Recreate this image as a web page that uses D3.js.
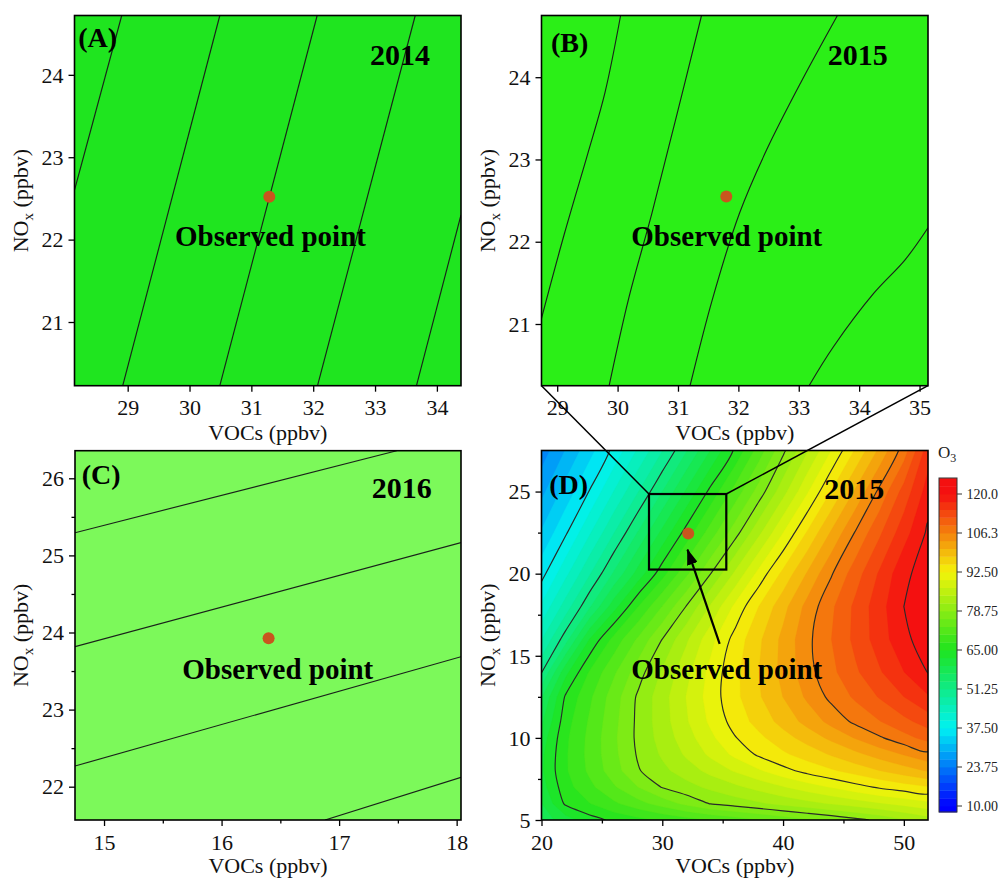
<!DOCTYPE html>
<html>
<head>
<meta charset="utf-8">
<script src="https://cdn.jsdelivr.net/npm/d3@7"></script>
<style>
  body { margin: 0; background: #fff; }
  svg { display: block; }
</style>
</head>
<body>
<svg id="chart" width="999" height="879"></svg>
<script>
// ===================== DATA =====================
const panelLetters = ["(A)", "(B)", "(C)", "(D)"];
const panelYears = ["2014", "2015", "2016", "2015"];
const observedLabel = "Observed point";
const xTitle = "VOCs (ppbv)";

// Panel A (2014)
const vocRangeA = [28.14, 34.39];
const noxRangeA = [20.227, 24.72];
const vocTicksA = [29, 30, 31, 32, 33, 34];
const noxTicksA = [21, 22, 23, 24];
const observedA = [31.29, 22.52];
const contourLinesA = [
  [[28.14, 22.60], [28.904, 24.72]],
  [[28.92, 20.227], [30.49, 24.72]],
  [[30.49, 20.227], [32.064, 24.72]],
  [[32.07, 20.227], [33.65, 24.72]],
  [[33.67, 20.227], [34.39, 22.30]]
];

// Panel B (2015, zoom)
const vocRangeB = [28.74, 35.14];
const noxRangeB = [20.25, 24.75];
const vocTicksB = [29, 30, 31, 32, 33, 34, 35];
const noxTicksB = [21, 22, 23, 24];
const observedB = [31.8, 22.55];
const contourLinesB = [
  [[28.74, 21.07], [29.12, 22.10], [29.51, 23.08], [29.79, 23.81], [30.05, 24.75]],
  [[29.86, 20.25], [30.18, 21.30], [30.57, 22.35], [30.96, 23.48], [31.39, 24.75]],
  [[31.20, 20.25], [31.57, 21.30], [32.02, 22.35], [32.47, 23.12], [33.03, 23.93], [33.64, 24.75]],
  [[33.17, 20.25], [33.58, 20.73], [34.25, 21.38], [34.76, 21.78], [35.14, 22.17]]
];

// Panel C (2016)
const vocRangeC = [14.753, 18.037];
const noxRangeC = [21.568, 26.358];
const vocTicksC = [15, 16, 17, 18];
const vocMinorC = [15.5, 16.5, 17.5];
const noxTicksC = [22, 23, 24, 25, 26];
const noxMinorC = [22.5, 23.5, 24.5, 25.5];
const observedC = [16.40, 23.925];
const contourLinesC = [
  [[14.753, 25.294], [17.49, 26.358]],
  [[14.753, 23.816], [18.037, 25.165]],
  [[14.753, 22.268], [18.037, 23.686]],
  [[16.88, 21.568], [18.037, 22.121]]
];

// Panel D (2015, full O3 isopleth)
const vocRangeD = [20, 52];
const noxRangeD = [5, 27.5];
const vocTicksD = [20, 30, 40, 50];
const vocMinorD = [25, 35, 45];
const noxTicksD = [5, 10, 15, 20, 25];
const noxMinorD = [7.5, 12.5, 17.5, 22.5];
const observedD = [32.15, 22.44];
const arrowD = [[34.75, 15.73], [32.09, 21.46]];
const zoomBoxD = [[28.9, 20.25], [35.3, 24.85]];

// O3 grid estimated from the colours / isopleths of panel D
const gridVOC = [20, 22, 24, 26, 28, 30, 32, 34, 36, 38, 40, 42, 44, 46, 48, 50, 52];
const gridNOx = [5, 6, 7, 8, 9, 10, 11, 12.5, 14, 16, 18, 20, 22.5, 25, 27.5];
const o3Grid = [
  [58.0, 60.9, 63.8, 65.7, 66.9, 68.2, 69.4, 70.6, 71.8, 73.1, 74.3, 75.5, 76.7, 78.0, 79.4, 81.2, 83.0],
  [59.4, 65.5, 67.7, 70.0, 72.3, 74.5, 76.8, 78.9, 80.0, 81.1, 82.3, 83.4, 84.5, 85.6, 86.8, 87.9, 89.0],
  [61.0, 66.7, 69.8, 72.9, 76.0, 78.9, 80.5, 82.1, 83.6, 85.2, 86.8, 88.4, 89.9, 91.5, 92.9, 94.0, 95.0],
  [61.8, 67.4, 71.1, 74.8, 78.5, 80.8, 82.9, 85.1, 87.3, 89.4, 91.6, 93.4, 94.9, 96.4, 98.0, 99.5, 101.0],
  [61.6, 67.4, 71.4, 75.3, 79.1, 81.9, 84.7, 87.6, 90.4, 93.0, 94.8, 96.5, 98.3, 100.1, 101.9, 103.7, 105.5],
  [60.7, 67.2, 71.3, 75.5, 79.4, 82.6, 85.8, 89.1, 92.3, 94.6, 96.9, 99.1, 101.4, 103.7, 105.9, 108.0, 110.0],
  [59.0, 66.6, 70.9, 75.2, 79.4, 83.0, 86.7, 90.3, 93.6, 96.3, 99.0, 101.7, 104.4, 106.9, 108.9, 111.0, 113.0],
  [56.5, 65.4, 70.0, 74.7, 79.2, 83.1, 87.1, 91.0, 94.5, 97.7, 100.8, 104.0, 107.0, 109.5, 112.0, 114.5, 117.0],
  [51.1, 61.4, 68.1, 72.8, 77.5, 81.9, 86.2, 90.6, 94.5, 98.0, 101.6, 105.2, 108.3, 111.3, 114.2, 117.2, 120.1],
  [45.6, 52.8, 62.4, 68.7, 73.7, 78.8, 83.8, 88.8, 93.5, 97.5, 101.5, 105.5, 109.0, 112.5, 115.9, 119.3, 121.5],
  [40.7, 47.0, 53.7, 61.1, 67.7, 73.3, 78.9, 84.6, 90.3, 95.3, 99.8, 104.4, 108.5, 112.4, 116.2, 120.0, 122.0],
  [36.5, 42.3, 48.3, 54.4, 60.6, 66.7, 72.7, 78.7, 84.7, 90.7, 96.0, 101.0, 106.0, 110.5, 114.9, 119.3, 121.5],
  [32.3, 37.1, 42.7, 48.4, 54.2, 60.2, 66.1, 71.8, 77.5, 83.6, 89.7, 95.5, 101.1, 106.5, 111.3, 116.1, 120.5],
  [28.5, 33.1, 37.7, 43.1, 48.4, 54.0, 59.9, 65.8, 71.5, 77.2, 83.2, 89.4, 95.4, 101.2, 107.0, 112.8, 118.5],
  [25.0, 29.4, 33.8, 38.3, 43.4, 48.4, 53.8, 59.6, 65.4, 71.8, 78.1, 84.0, 89.8, 95.6, 101.4, 107.6, 116.0]
];
const o3LineLevels = [37.5, 51.25, 65, 78.75, 92.5, 106.25, 120];
const o3FillStep = 2.75;
const o3Min = 10, o3Max = 120;
const colorStops = [10, 37.5, 65, 92.5, 120];
const colorbarTicks = [10, 23.75, 37.5, 51.25, 65, 78.75, 92.5, 106.25, 120];
const colorbarLabels = ["10.00", "23.75", "37.50", "51.25", "65.00", "78.75", "92.50", "106.3", "120.0"];

// ===================== STYLE / LAYOUT =====================
const serif = "'Liberation Serif','Times New Roman',Times,serif";
const frames = {
  A: { left: 74.5, right: 461, top: 15.5, bottom: 385.7, titleGap: 54 },
  B: { left: 541.5, right: 928, top: 15.5, bottom: 385.7, titleGap: 54 },
  C: { left: 75, right: 461, top: 450.7, bottom: 820, titleGap: 53 },
  D: { left: 541.5, right: 928, top: 450.5, bottom: 820, titleGap: 53 }
};
const panelFill = { A: "#1fe51f", B: "#2bef17", C: "#7cf95a" };
const colorRange = ["#0000ff", "#00f2f2", "#1ee41e", "#f4f40a", "#f41010"];
const dotColor = "#c8561e";
const labelPos = {
  A: { letter: [3.8, 31.5], year: [-31, 49.5], obs: [100.5, 230.5] },
  B: { letter: [9.5, 36.5], year: [-40.3, 49.5], obs: [89.8, 230.5] },
  C: { letter: [6.7, 33.3], year: [-29.3, 47.3], obs: [107.3, 228.3] },
  D: { letter: [7.8, 43.5], year: [-43.7, 48.5], obs: [89.8, 228.5] }
};

const svg = d3.select("#chart");
const defs = svg.append("defs");
const o3Color = d3.scaleLinear().domain(colorStops).range(colorRange).clamp(true);

function makePanel(key, cfg) {
  const f = frames[key];
  const x = d3.scaleLinear().domain(cfg.xDomain).range([f.left, f.right]);
  const y = d3.scaleLinear().domain(cfg.yDomain).range([f.bottom, f.top]);
  defs.append("clipPath").attr("id", "clip" + key).append("rect")
    .attr("x", f.left).attr("y", f.top).attr("width", f.right - f.left).attr("height", f.bottom - f.top);
  const g = svg.append("g");
  const plot = g.append("g").attr("clip-path", `url(#clip${key})`);
  return { f, x, y, g, plot };
}

function finishPanel(key, P, cfg, idx) {
  const { f, x, y, g } = P;
  g.append("rect").attr("x", f.left).attr("y", f.top)
    .attr("width", f.right - f.left).attr("height", f.bottom - f.top)
    .attr("fill", "none").attr("stroke", "#000").attr("stroke-width", 1.6);
  const xa = g.append("g").attr("transform", `translate(0,${f.bottom})`)
    .call(d3.axisBottom(x).tickValues(cfg.xTicks).tickSize(6).tickFormat(d3.format("d")));
  const ya = g.append("g").attr("transform", `translate(${f.left},0)`)
    .call(d3.axisLeft(y).tickValues(cfg.yTicks).tickSize(6).tickFormat(d3.format("d")));
  if (cfg.xMinor) g.append("g").attr("transform", `translate(0,${f.bottom})`)
    .call(d3.axisBottom(x).tickValues(cfg.xMinor).tickSize(3.5).tickFormat(""));
  if (cfg.yMinor) g.append("g").attr("transform", `translate(${f.left},0)`)
    .call(d3.axisLeft(y).tickValues(cfg.yMinor).tickSize(3.5).tickFormat(""));
  g.selectAll(".domain").remove();
  g.selectAll(".tick line").attr("stroke", "#000").attr("stroke-width", 1.3);
  xa.selectAll(".tick text").attr("y", 29.5).attr("dy", 0)
    .attr("font-size", 22).attr("font-family", serif).attr("fill", "#111");
  ya.selectAll(".tick text").attr("x", -11).attr("dy", "0.33em")
    .attr("font-size", 22).attr("font-family", serif).attr("fill", "#111");
  g.append("text").attr("x", (f.left + f.right) / 2).attr("y", f.bottom + f.titleGap)
    .attr("text-anchor", "middle").attr("font-family", serif).attr("font-size", 22).attr("fill", "#111")
    .text(xTitle);
  const yt = g.append("text")
    .attr("transform", `translate(${f.left - 47},${(f.top + f.bottom) / 2}) rotate(-90)`)
    .attr("text-anchor", "middle").attr("font-family", serif).attr("font-size", 22).attr("fill", "#111");
  yt.append("tspan").text("NO");
  yt.append("tspan").attr("font-size", 15).attr("dy", 5).text("x");
  yt.append("tspan").attr("dy", -5).text(" (ppbv)");
  g.append("circle").attr("cx", x(cfg.observed[0])).attr("cy", y(cfg.observed[1]))
    .attr("r", 6).attr("fill", dotColor);
  const lp = labelPos[key];
  const bold = (sel) => sel.attr("font-family", serif).attr("font-weight", "bold").attr("fill", "#000");
  bold(g.append("text")).attr("x", f.left + lp.letter[0]).attr("y", f.top + lp.letter[1])
    .attr("font-size", 28).text(panelLetters[idx]);
  bold(g.append("text")).attr("x", f.right + lp.year[0]).attr("y", f.top + lp.year[1])
    .attr("text-anchor", "end").attr("font-size", 30).text(panelYears[idx]);
  bold(g.append("text")).attr("x", f.left + lp.obs[0]).attr("y", f.top + lp.obs[1])
    .attr("font-size", 29).text(observedLabel);
}

function simplePanel(key, idx, cfg) {
  const P = makePanel(key, cfg);
  P.plot.append("rect")
    .attr("x", P.x(cfg.xDomain[0])).attr("y", P.y(cfg.yDomain[1]))
    .attr("width", P.x(cfg.xDomain[1]) - P.x(cfg.xDomain[0]))
    .attr("height", P.y(cfg.yDomain[0]) - P.y(cfg.yDomain[1]))
    .attr("fill", panelFill[key]);
  const line = d3.line().x(d => P.x(d[0])).y(d => P.y(d[1])).curve(d3.curveCatmullRom.alpha(0.5));
  P.plot.selectAll("path.iso").data(cfg.lines).join("path").attr("class", "iso")
    .attr("d", line).attr("fill", "none").attr("stroke", "#1a221a").attr("stroke-width", 1.15);
  finishPanel(key, P, cfg, idx);
  return P;
}

simplePanel("A", 0, { xDomain: vocRangeA, yDomain: noxRangeA, xTicks: vocTicksA, yTicks: noxTicksA, observed: observedA, lines: contourLinesA });
simplePanel("B", 1, { xDomain: vocRangeB, yDomain: noxRangeB, xTicks: vocTicksB, yTicks: noxTicksB, observed: observedB, lines: contourLinesB });
simplePanel("C", 2, { xDomain: vocRangeC, yDomain: noxRangeC, xTicks: vocTicksC, yTicks: noxTicksC, xMinor: vocMinorC, yMinor: noxMinorC, observed: observedC, lines: contourLinesC });

// ---------- Panel D: filled contour from the O3 grid ----------
const cfgD = { xDomain: vocRangeD, yDomain: noxRangeD, xTicks: vocTicksD, yTicks: noxTicksD, xMinor: vocMinorD, yMinor: noxMinorD, observed: observedD };
const PD = makePanel("D", cfgD);
const nx = gridVOC.length, ny = gridNOx.length;
const idxToVOC = d3.scaleLinear().domain(d3.range(nx)).range(gridVOC);
const idxToNOx = d3.scaleLinear().domain(d3.range(ny)).range(gridNOx);
const toPx = p => [PD.x(idxToVOC(p[0] - 0.5)), PD.y(idxToNOx(p[1] - 0.5))];
const flat = o3Grid.flat();
const fillThresholds = d3.range(o3Min, d3.max(flat) + o3FillStep, o3FillStep);
const fills = d3.contours().size([nx, ny]).thresholds(fillThresholds)(flat);
fills.forEach(c => {
  const dStr = c.coordinates.map(poly => poly.map(ring =>
    "M" + ring.map(p => toPx(p).map(v => v.toFixed(2)).join(",")).join("L") + "Z").join("")).join("");
  if (!dStr) return;
  const col = o3Color(Math.min(c.value + o3FillStep / 2, o3Max));
  PD.plot.append("path").attr("d", dStr).attr("fill-rule", "evenodd")
    .attr("fill", col).attr("stroke", col).attr("stroke-width", 0.3);
});
const isoLines = d3.contours().size([nx, ny]).thresholds(o3LineLevels)(flat);
const closedLine = d3.line().curve(d3.curveCatmullRomClosed.alpha(0.5));
isoLines.forEach(c => {
  c.coordinates.forEach(poly => poly.forEach(ring => {
    const pts = ring.slice(0, -1).map(toPx);
    PD.plot.append("path").attr("d", closedLine(pts)).attr("fill", "none")
      .attr("stroke", "#2a2a2a").attr("stroke-width", 1.15);
  }));
});
PD.g.append("rect")
  .attr("x", PD.x(zoomBoxD[0][0])).attr("y", PD.y(zoomBoxD[1][1]))
  .attr("width", PD.x(zoomBoxD[1][0]) - PD.x(zoomBoxD[0][0]))
  .attr("height", PD.y(zoomBoxD[0][1]) - PD.y(zoomBoxD[1][1]))
  .attr("fill", "none").attr("stroke", "#000").attr("stroke-width", 2.2);
defs.append("marker").attr("id", "arrowHead").attr("markerUnits", "userSpaceOnUse")
  .attr("markerWidth", 16).attr("markerHeight", 11).attr("refX", 15).attr("refY", 5.5)
  .attr("orient", "auto").append("path").attr("d", "M0,0L16,5.5L0,11Z").attr("fill", "#000");
PD.g.append("line")
  .attr("x1", PD.x(arrowD[0][0])).attr("y1", PD.y(arrowD[0][1]))
  .attr("x2", PD.x(arrowD[1][0])).attr("y2", PD.y(arrowD[1][1]))
  .attr("stroke", "#000").attr("stroke-width", 2.2).attr("marker-end", "url(#arrowHead)");
finishPanel("D", PD, cfgD, 3);

// connector lines from panel B to the zoom box in D
const fb = frames.B;
svg.append("line").attr("x1", fb.left).attr("y1", fb.bottom)
  .attr("x2", PD.x(zoomBoxD[0][0])).attr("y2", PD.y(zoomBoxD[1][1]))
  .attr("stroke", "#000").attr("stroke-width", 1.5);
svg.append("line").attr("x1", fb.right).attr("y1", fb.bottom)
  .attr("x2", PD.x(zoomBoxD[1][0])).attr("y2", PD.y(zoomBoxD[1][1]))
  .attr("stroke", "#000").attr("stroke-width", 1.5);

// ---------- colour bar ----------
const cb = { x0: 939, x1: 957, top: 478, bottom: 812 };
const cbY = d3.scaleLinear().domain([o3Min, o3Max]).range([806, 494]);
const cbLow = cbY.invert(cb.bottom), cbHigh = cbY.invert(cb.top);
const cbG = svg.append("g");
d3.range(o3Min - o3FillStep, cbHigh, o3FillStep).forEach(t => {
  const lo = Math.max(t, cbLow), hi = Math.min(t + o3FillStep, cbHigh);
  if (hi <= lo) return;
  cbG.append("rect").attr("x", cb.x0).attr("width", cb.x1 - cb.x0)
    .attr("y", cbY(hi)).attr("height", cbY(lo) - cbY(hi) + 0.4)
    .attr("fill", o3Color(t + o3FillStep / 2));
});
cbG.append("rect").attr("x", cb.x0).attr("y", cb.top).attr("width", cb.x1 - cb.x0)
  .attr("height", cb.bottom - cb.top).attr("fill", "none").attr("stroke", "#333").attr("stroke-width", 1);
colorbarTicks.forEach((v, i) => {
  cbG.append("line").attr("x1", cb.x1).attr("x2", cb.x1 + 5).attr("y1", cbY(v)).attr("y2", cbY(v))
    .attr("stroke", "#333").attr("stroke-width", 1);
  cbG.append("text").attr("x", cb.x1 + 9.5).attr("y", cbY(v)).attr("dy", "0.35em")
    .attr("font-family", serif).attr("font-size", 14).attr("fill", "#222").text(colorbarLabels[i]);
});
const o3t = cbG.append("text").attr("x", 938).attr("y", 458)
  .attr("font-family", serif).attr("font-size", 17).attr("fill", "#222");
o3t.append("tspan").text("O");
o3t.append("tspan").attr("font-size", 12).attr("dy", 4).text("3");
</script>
</body>
</html>
